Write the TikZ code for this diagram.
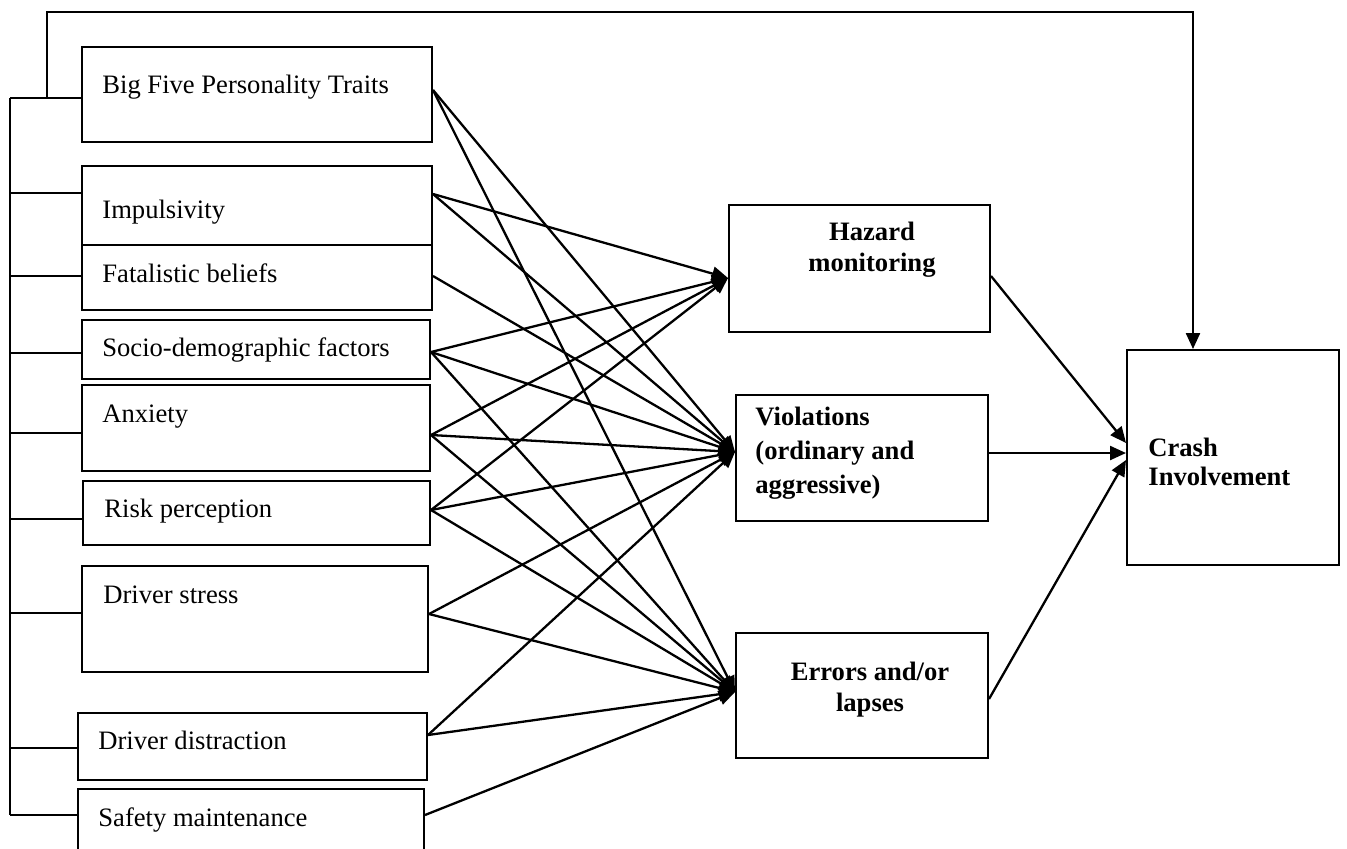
\documentclass[tikz,border=0pt]{standalone}
\usepackage{fontspec}
\setmainfont{Liberation Serif}
\usetikzlibrary{arrows.meta,calc}

\tikzset{
  box/.style={draw, line width=1pt, inner sep=0pt},
  boxtext/.style={inner sep=0pt, font=\fontsize{13.3}{15.5}\selectfont},
  outtext/.style={inner sep=0pt, font=\fontsize{13.3}{15.5}\selectfont\bfseries},
  link/.style={line width=1.15pt, -{Triangle[length=8pt,width=7pt]}},
  bracket/.style={line width=0.9pt}
}

\begin{document}
\begin{tikzpicture}[x=0.5pt,y=-0.5pt]
\useasboundingbox (0,0) rectangle (1347,848);

% predictors: name/left/top/right/bottom/text x/baseline/stub y/port y/label
\foreach \nm/\xa/\ya/\xb/\yb/\tx/\ty/\sy/\ay/\txt in {
  big/82/47/432/142/102/93/98/90/Big Five Personality Traits,
  imp/82/166/432/245/102/218/193/194/Impulsivity,
  fat/82/245/432/310/102/282/276/276/Fatalistic beliefs,
  soc/82/320/430/379/102/356/353/352/Socio-demographic factors,
  anx/82/385/430/471/102/422/433/435/Anxiety,
  rsk/83/481/430/545/104/517/519/510/Risk perception,
  str/82/566/428/672/103/603/613/614/Driver stress,
  dis/78/713/427/780/98/749/748/735/Driver distraction,
  saf/78/789/424/870/98/826/815/815/Safety maintenance}
{
  \node[box, minimum width={(\xb-\xa)*0.5pt}, minimum height={(\yb-\ya)*0.5pt}]
    (\nm) at ({(\xa+\xb)/2},{(\ya+\yb)/2}) {};
  \node[boxtext, anchor=base west] (\nm-txt) at (\tx,\ty) {\txt};
  \coordinate (\nm-l) at (\nm.west |- 0,\sy);
  \coordinate (\nm-r) at (\nm.east |- 0,\ay);
}

% mediators and outcome
\node[box, minimum width=130.5pt, minimum height=63.5pt] (haz) at (859.5,268.5) {};
\node[box, minimum width=126pt, minimum height=63pt] (vio) at (862,458) {};
\node[box, minimum width=126pt, minimum height=62.5pt] (err) at (862,695.5) {};
\node[box, minimum width=106pt, minimum height=107.5pt] (crash) at (1233,457.5) {};

\node[outtext, align=center] (haz-txt) at (872,250) {Hazard\\monitoring};
\node[outtext, align=left, anchor=west, font=\fontsize{13.3}{17}\selectfont\bfseries]
  (vio-txt) at (755,453) {Violations\\(ordinary and\\aggressive)};
\node[outtext, align=center] (err-txt) at (870,690) {Errors and/or\\lapses};
\node[outtext, align=left, anchor=west, font=\fontsize{13.3}{14.5}\selectfont\bfseries]
  (crash-txt) at (1148,462) {Crash\\Involvement};

\coordinate (haz-in) at (haz.west |- 0,278);
\coordinate (vio-in) at (vio.west |- 0,452);
\coordinate (err-in) at (err.west |- 0,692);

% bracket joining the predictors
\draw[bracket] (10,98) -- (10,815);
\foreach \nm in {big,imp,fat,soc,anx,rsk,str,dis,saf}
  \draw[bracket] (10,0 |- \nm-l) -- (\nm-l);

% direct path to crash involvement
\coordinate (fb) at (47,98);
\coordinate (cr-top) at ($(crash.north west)!0.313!(crash.north east)$);
\draw[link] (fb) -- (47,12) -| (cr-top);

% predictor -> mediator paths
\foreach \src/\dst in {big/vio, big/err, imp/haz, imp/vio, fat/vio,
  soc/haz, soc/vio, soc/err, anx/haz, anx/vio, anx/err,
  rsk/haz, rsk/vio, rsk/err, str/vio, str/err, dis/vio, dis/err, saf/err}
  \draw[link] (\src-r) -- (\dst-in);

% mediator -> outcome paths
\draw[link] (haz.east |- 0,276) -- (crash.west |- 0,443);
\draw[link] (vio.east |- 0,453) -- (crash.west |- 0,453);
\draw[link] (err.east |- 0,699) -- (crash.west |- 0,460);
\end{tikzpicture}
\end{document}
